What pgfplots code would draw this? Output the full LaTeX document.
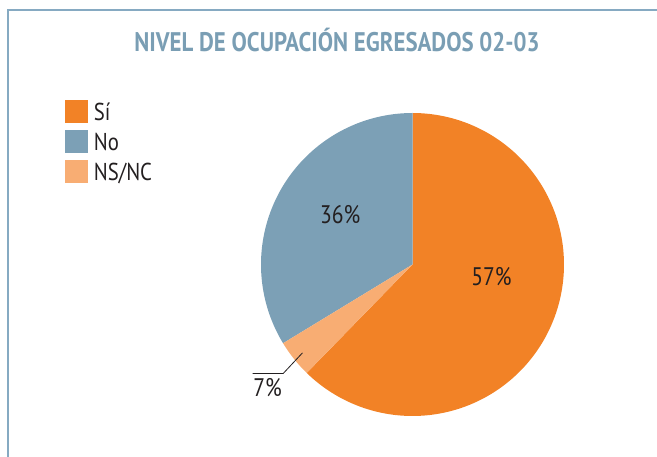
\documentclass[border=0pt]{standalone}
\usepackage{pgfplots}
\pgfplotsset{compat=1.18}
\usepackage{fontspec}
\setmainfont{PT Sans}[FakeStretch=0.85]
\definecolor{sicol}{HTML}{F28226}
\definecolor{nocol}{HTML}{7CA0B6}
\definecolor{nscol}{HTML}{F8AD73}
\definecolor{titcol}{HTML}{7A9EB4}
\definecolor{txtcol}{HTML}{231F20}
\definecolor{framecol}{HTML}{86AAC2}
% measured shares of the circle (percent), clockwise from 12 o'clock: Si, NS/NC, No
\def\shareSi{62.3}
\def\shareNS{4.0}
\def\shareNo{33.7}
\begin{document}
\begin{tikzpicture}[x=1bp,y=1bp]
\path[use as bounding box] (0bp,0bp) rectangle (657bp,457bp);
\draw[framecol, line width=1.2bp] (8bp,0bp) -- (8bp,447bp) -- (657bp,447bp);
\node[anchor=base, text=titcol, font=\fontsize{27}{30}\selectfont\bfseries, inner sep=0pt] at (337bp,405bp) {NIVEL DE OCUPACIÓN EGRESADOS 02-03};
\pgfmathsetmacro{\aA}{90-3.6*\shareSi}
\pgfmathsetmacro{\aB}{\aA-3.6*\shareNS}
\pgfmathsetmacro{\aC}{\aB-3.6*\shareNo}
\begin{axis}[at={(261bp,41bp)}, anchor=south west, width=303bp, height=303bp, scale only axis,
  xmin=-1, xmax=1, ymin=-1, ymax=1, hide axis, clip=false,
  legend style={at={(axis description cs:-0.647,1.042)}, anchor=north west, draw=none, fill=none,
    font=\fontsize{24.5}{27}\selectfont, text=txtcol, row sep=7.5bp, column sep=6.3bp, inner sep=0pt,
    nodes={inner sep=0pt, text height=18bp, text depth=0pt}},
  legend cell align=left,
  legend image code/.code={\fill[#1] (0bp,-11.25bp) rectangle (22.5bp,11.25bp);}]
\addplot[fill=sicol, draw=none, domain=\aA:90, samples=150] ({cos(x)},{sin(x)}) -- (axis cs:0,0) -- cycle;
\addlegendentry{Sí}
\addplot[fill=nocol, draw=none, domain=\aC:\aB, samples=100] ({cos(x)},{sin(x)}) -- (axis cs:0,0) -- cycle;
\addlegendentry{No}
\addplot[fill=nscol, draw=none, domain=\aB:\aA, samples=20] ({cos(x)},{sin(x)}) -- (axis cs:0,0) -- cycle;
\addlegendentry{NS/NC}
\draw[txtcol, line width=0.8bp] (axis cs:-0.726,-0.583) -- (axis cs:-0.854,-0.72) -- (axis cs:-1.056,-0.72);
\node[anchor=base, text=txtcol, font=\fontsize{25.5}{28}\selectfont, inner sep=0pt] at (axis cs:0.521,-0.139) {57\%};
\node[anchor=base, text=txtcol, font=\fontsize{25.5}{28}\selectfont, inner sep=0pt] at (axis cs:-0.477,0.273) {36\%};
\node[anchor=base, text=txtcol, font=\fontsize{25.5}{28}\selectfont, inner sep=0pt] at (axis cs:-0.957,-0.873) {7\%};
\end{axis}
\end{tikzpicture}
\end{document}
